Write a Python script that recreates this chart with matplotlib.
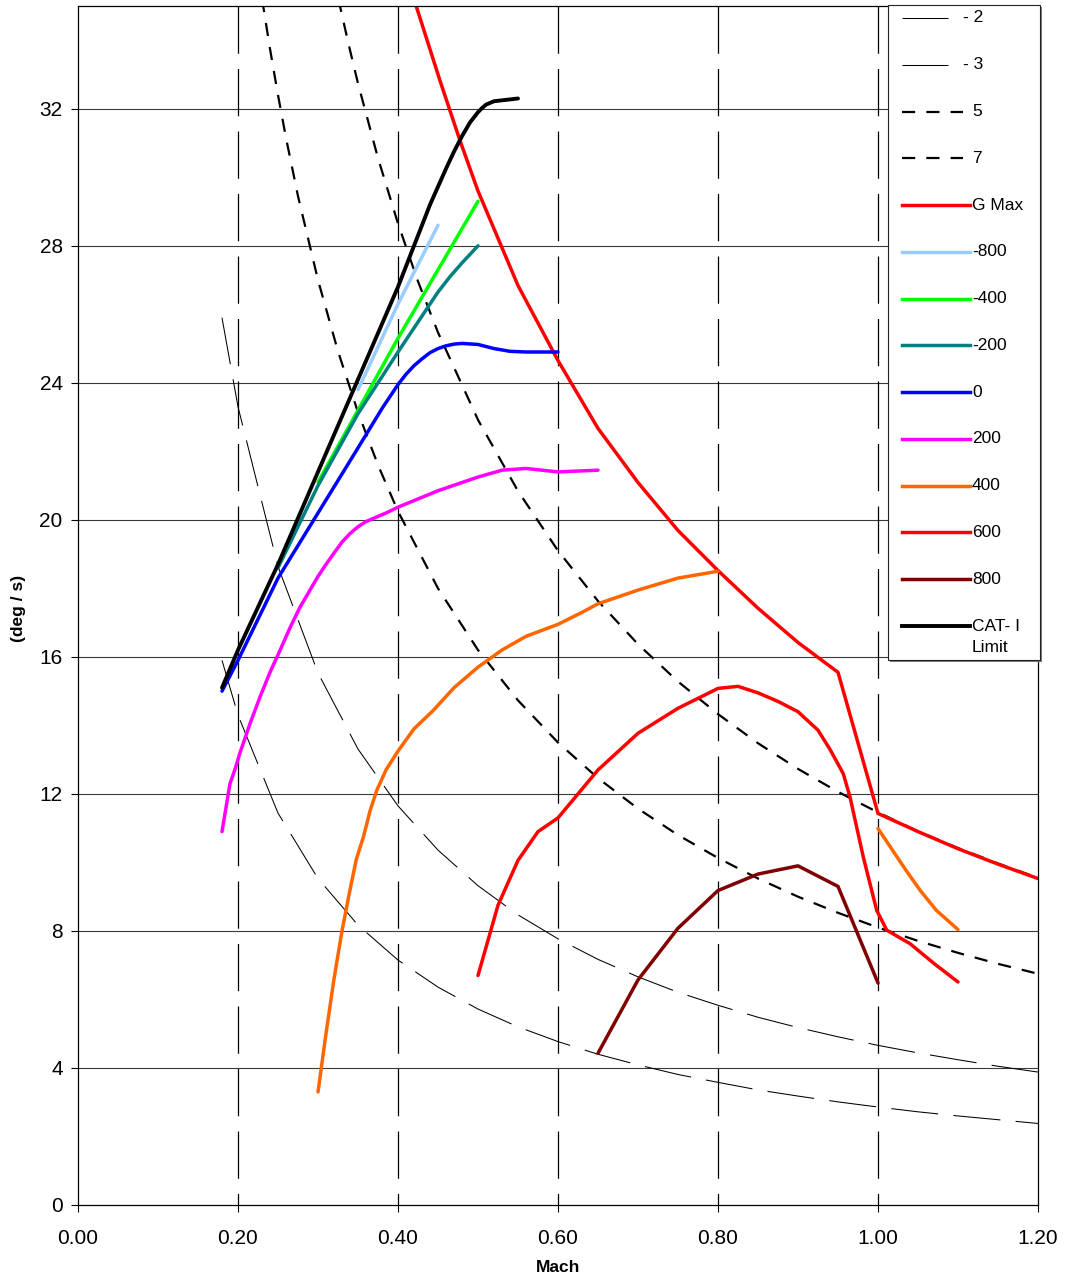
import matplotlib
matplotlib.use("Agg")
import numpy as np
import matplotlib.pyplot as plt
from matplotlib.lines import Line2D
from matplotlib.patches import Rectangle

plt.rcParams['font.family'] = ['Liberation Sans', 'DejaVu Sans']
plt.rcParams['lines.scale_dashes'] = False

W, H = 1066, 1279

# ---- constant load-factor turn-rate curves (deg/s vs Mach) ----
mach_ref = [0.18, 0.20, 0.25, 0.30, 0.35, 0.40, 0.45, 0.50, 0.55, 0.60, 0.65,
            0.70, 0.75, 0.80, 0.85, 0.90, 0.95, 1.00, 1.05, 1.10, 1.15, 1.20]
rate_n2 = [15.9, 14.3, 11.44, 9.53, 8.17, 7.15, 6.36, 5.72, 5.2, 4.77, 4.4,
           4.09, 3.81, 3.58, 3.36, 3.18, 3.01, 2.86, 2.72, 2.6, 2.49, 2.38]
rate_n3 = [25.9, 23.3, 18.64, 15.53, 13.31, 11.65, 10.36, 9.32, 8.47, 7.77, 7.17,
           6.66, 6.21, 5.83, 5.48, 5.18, 4.91, 4.66, 4.44, 4.24, 4.05, 3.88]

mach_n5 = [0.22, 0.23, 0.24, 0.25, 0.26, 0.275, 0.30, 0.325, 0.35, 0.375, 0.40,
           0.45, 0.50, 0.55, 0.60, 0.65, 0.70, 0.75, 0.80, 0.85, 0.90, 0.95,
           1.00, 1.05, 1.10, 1.15, 1.20]
rate_n5 = [36.82, 35.22, 33.75, 32.4, 31.15, 29.45, 27.0, 24.92, 23.14, 21.6, 20.25,
           18.0, 16.2, 14.73, 13.5, 12.46, 11.57, 10.8, 10.13, 9.53, 9.0, 8.53,
           8.1, 7.71, 7.36, 7.04, 6.75]

mach_n7 = [0.32, 0.33, 0.34, 0.35, 0.375, 0.40, 0.425, 0.45, 0.50, 0.55, 0.60,
           0.65, 0.70, 0.75, 0.80, 0.85, 0.90, 0.95, 1.00, 1.05, 1.10, 1.15, 1.20]
rate_n7 = [35.81, 34.73, 33.71, 32.74, 30.56, 28.65, 26.96, 25.47, 22.92, 20.84, 19.1,
           17.63, 16.37, 15.28, 14.33, 13.48, 12.73, 12.06, 11.46, 10.91, 10.42, 9.97, 9.55]

# ---- maximum-g boundary ----
gmax_mach = [0.42, 0.4525, 0.4775, 0.50, 0.55, 0.60, 0.65, 0.70, 0.75, 0.80,
             0.85, 0.90, 0.95, 1.00, 1.05, 1.10, 1.15, 1.20]
gmax_rate = [35.2, 32.82, 31.07, 29.6, 26.84, 24.65, 22.67, 21.09, 19.69, 18.52,
             17.42, 16.42, 15.55, 11.43, 10.9, 10.4, 9.95, 9.53]

# ---- specific excess power contours (ft/s) ----
ps_m800_mach = [0.35, 0.40, 0.45]
ps_m800_rate = [23.8, 26.3, 28.6]

ps_m400_mach = [0.30, 0.35, 0.40, 0.45, 0.50]
ps_m400_rate = [21.1, 23.2, 25.3, 27.3, 29.3]

ps_m200_mach = [0.25, 0.30, 0.35, 0.40, 0.43, 0.45, 0.465, 0.48, 0.50]
ps_m200_rate = [18.6, 21.0, 23.1, 24.9, 25.95, 26.65, 27.1, 27.5, 28.0]

ps_0_mach = [0.18, 0.20, 0.25, 0.30, 0.35, 0.38, 0.40, 0.41, 0.42, 0.43, 0.44,
             0.45, 0.46, 0.47, 0.48, 0.50, 0.52, 0.54, 0.56, 0.60]
ps_0_rate = [15.0, 15.9, 18.3, 20.2, 22.1, 23.25, 23.95, 24.25, 24.5, 24.7, 24.88,
             25.0, 25.08, 25.13, 25.15, 25.12, 25.0, 24.92, 24.9, 24.9]

ps_200_mach = [0.18, 0.19, 0.196, 0.2025, 0.215, 0.2275, 0.24, 0.2525, 0.265,
               0.2775, 0.29, 0.30, 0.31, 0.32, 0.33, 0.34, 0.35, 0.36, 0.37,
               0.385, 0.40, 0.45, 0.50, 0.53, 0.56, 0.60, 0.65]
ps_200_rate = [10.9, 12.3, 12.7, 13.2, 14.05, 14.83, 15.55, 16.19, 16.85,
               17.45, 17.95, 18.35, 18.7, 19.03, 19.35, 19.6, 19.8, 19.95, 20.05,
               20.2, 20.37, 20.85, 21.25, 21.45, 21.5, 21.4, 21.45]

ps_400_mach = [0.30, 0.31, 0.32, 0.33, 0.34, 0.348, 0.3567, 0.365, 0.3734, 0.385,
               0.40, 0.42, 0.4442, 0.47, 0.50, 0.53, 0.56, 0.60, 0.63, 0.65,
               0.70, 0.75, 0.80,
               np.nan, 1.00, 1.035, 1.0525, 1.073, 1.10]
ps_400_rate = [3.3, 5.0, 6.6, 8.0, 9.2, 10.1, 10.74, 11.5, 12.1, 12.7,
               13.25, 13.9, 14.44, 15.1, 15.7, 16.2, 16.6, 16.95, 17.3, 17.55,
               17.95, 18.3, 18.5,
               np.nan, 10.99, 9.77, 9.19, 8.6, 8.04]

ps_600_mach = [0.50, 0.525, 0.55, 0.575, 0.60, 0.65, 0.70, 0.75, 0.80, 0.825,
               0.85, 0.875, 0.90, 0.925, 0.94, 0.9566, 0.965, 0.9816, 0.9984,
               1.011, 1.04, 1.07, 1.10]
ps_600_rate = [6.7, 8.75, 10.06, 10.9, 11.3, 12.7, 13.77, 14.5, 15.08, 15.14,
               14.95, 14.7, 14.4, 13.86, 13.3, 12.59, 11.91, 10.16, 8.6,
               8.02, 7.63, 7.05, 6.51]

ps_800_mach = [0.65, 0.70, 0.75, 0.80, 0.85, 0.90, 0.95, 1.00]
ps_800_rate = [4.43, 6.57, 8.08, 9.18, 9.66, 9.9, 9.3, 6.48]

# ---- category I limit ----
cat1_mach = [0.18, 0.20, 0.25, 0.30, 0.35, 0.40, 0.44, 0.46, 0.47, 0.48, 0.49,
             0.50, 0.505, 0.51, 0.52, 0.535, 0.55]
cat1_rate = [15.1, 16.2, 18.7, 21.4, 24.1, 26.8, 29.2, 30.25, 30.75, 31.2, 31.6,
             31.9, 32.02, 32.12, 32.22, 32.26, 32.3]

x_ticks = [0.0, 0.2, 0.4, 0.6, 0.8, 1.0, 1.2]
y_ticks = [0, 4, 8, 12, 16, 20, 24, 28, 32]

fig = plt.figure(figsize=(W / 100, H / 100), dpi=100)
ax = fig.add_axes([78 / W, 1 - 1205 / H, 960 / W, 1199 / H])
ax.set_xlim(0, 1.2)
ax.set_ylim(0, 35)

# grid: solid horizontal, long-dashed vertical
for yv in y_ticks[1:]:
    ax.axhline(yv, color='#3a3a3a', lw=0.8, zorder=1)
for xv in x_ticks[1:-1]:
    ax.plot([xv, xv], [35, 0], color='black', lw=0.9, dashes=(34, 11), zorder=1)

thin_dash = (34, 11)
med_dash = (9.5, 8)
series = [
    ("- 2", mach_ref, rate_n2, dict(color='black', lw=0.75, dashes=thin_dash), 948),
    ("- 3", mach_ref, rate_n3, dict(color='black', lw=0.75, dashes=thin_dash), 948),
    ("5", mach_n5, rate_n5, dict(color='black', lw=1.6, dashes=med_dash), 963),
    ("7", mach_n7, rate_n7, dict(color='black', lw=1.6, dashes=med_dash), 963),
    ("G Max", gmax_mach, gmax_rate, dict(color='#FF0000', lw=2.5), 970),
    ("-800", ps_m800_mach, ps_m800_rate, dict(color='#99CCFF', lw=2.5), 970),
    ("-400", ps_m400_mach, ps_m400_rate, dict(color='#00FF00', lw=2.5), 970),
    ("-200", ps_m200_mach, ps_m200_rate, dict(color='#008080', lw=2.5), 970),
    ("0", ps_0_mach, ps_0_rate, dict(color='#0000FF', lw=2.5), 970),
    ("200", ps_200_mach, ps_200_rate, dict(color='#FF00FF', lw=2.5), 970),
    ("400", ps_400_mach, ps_400_rate, dict(color='#FF6600', lw=2.5), 970),
    ("600", ps_600_mach, ps_600_rate, dict(color='#FF0000', lw=2.5), 970),
    ("800", ps_800_mach, ps_800_rate, dict(color='#800000', lw=2.5), 970),
    ("CAT- I\nLimit", cat1_mach, cat1_rate, dict(color='black', lw=2.8), 970),
]
for i, (lab, xs, ys, st, _) in enumerate(series):
    ax.plot(xs, ys, solid_capstyle='round', solid_joinstyle='round',
            zorder=3 + i, **st)

ax.set_xticks(x_ticks)
ax.set_xticklabels([f"{v:.2f}" for v in x_ticks])
ax.set_yticks(y_ticks)
ax.set_yticklabels([str(v) for v in y_ticks])
ax.tick_params(direction='out', length=5, width=0.8, labelsize=15, colors='black')
ax.tick_params(axis='x', pad=12)
ax.tick_params(axis='y', pad=6)
for sp in ax.spines.values():
    sp.set_color('black')
    sp.set_linewidth(0.9)
    sp.set_zorder(20)

ax.set_xlabel("Mach", fontsize=12.5, fontweight='bold', va='center')
ax.xaxis.set_label_coords(0.5, -(1268 - 1205) / 1199)
ax.set_ylabel("(deg / s)", fontsize=12.5, fontweight='bold', va='center')
ax.yaxis.set_label_coords((18 - 78) / 960, (1205 - 608) / 1199)


# ---- legend box drawn in figure pixel layout ----
def fx(px):
    return px / W


def fy(py):
    return 1 - py / H


lx0, ly0, lx1, ly1 = 888, 5, 1040, 660
fig.add_artist(Rectangle((fx(lx0 + 2), fy(ly1 + 2)), fx(lx1 - lx0), (ly1 - ly0) / H,
                         transform=fig.transFigure, facecolor='#7a7a7a',
                         edgecolor='none', zorder=30))
fig.add_artist(Rectangle((fx(lx0), fy(ly1)), fx(lx1 - lx0), (ly1 - ly0) / H,
                         transform=fig.transFigure, facecolor='white',
                         edgecolor='#222222', lw=0.8, zorder=31))
row0, pitch = 18, 46.77
for i, (lab, xs, ys, st, hx1) in enumerate(series):
    yc = row0 + i * pitch
    fig.add_artist(Line2D([fx(902), fx(hx1)], [fy(yc), fy(yc)],
                          transform=fig.transFigure, zorder=32, **st))
    tx = 963 if lab.startswith("- ") else 972
    first, *rest = lab.split("\n")
    fig.text(fx(tx), fy(yc), first, fontsize=12.5, va='center', ha='left', zorder=33)
    for k, extra in enumerate(rest):
        fig.text(fx(tx), fy(yc + 21 * (k + 1)), extra, fontsize=12.5,
                 va='center', ha='left', zorder=33)

fig.savefig("out.png", dpi=100)
